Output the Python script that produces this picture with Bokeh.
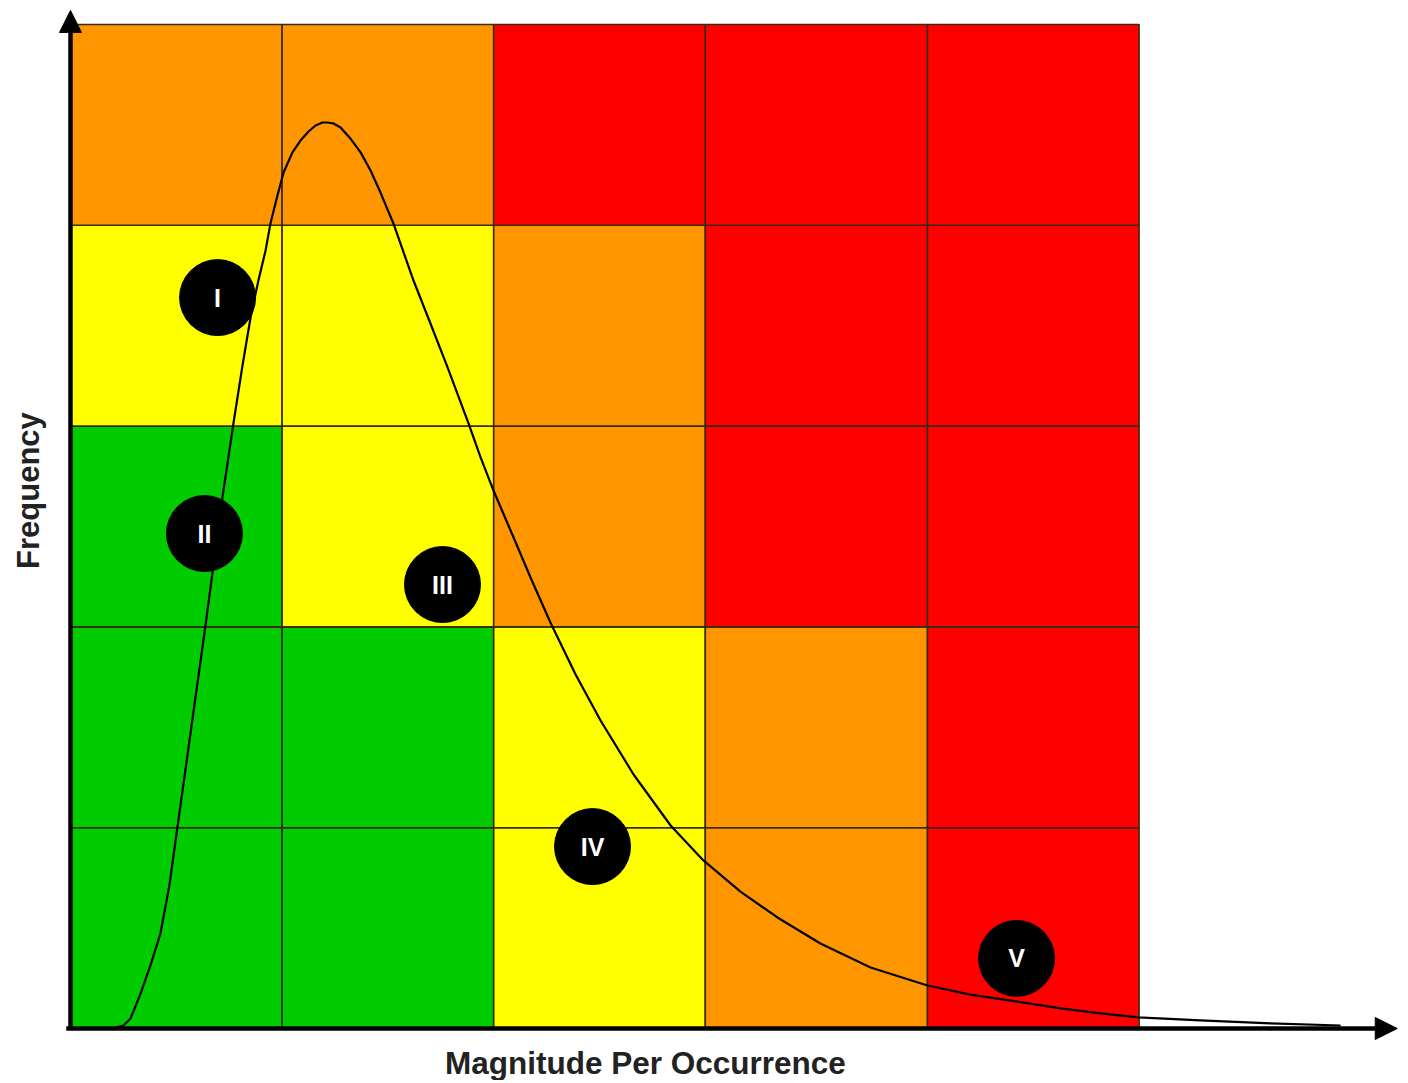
from bokeh.plotting import figure
from bokeh.models import Range1d, Arrow, NormalHead, Label, ColumnDataSource
from bokeh.embed import file_html
from bokeh.resources import INLINE
from bokeh.core.properties import value

# ---- data ----
col_edges = [0.0, 1.0, 2.0, 3.0, 4.05, 5.05]
row_edges = [0.0, 1.0, 2.0, 3.0, 4.0, 5.0]
# risk level per cell, rows from bottom (low frequency) to top
risk_rows = [
    ["G", "G", "Y", "O", "R"],
    ["G", "G", "Y", "O", "R"],
    ["G", "Y", "O", "R", "R"],
    ["Y", "Y", "O", "R", "R"],
    ["O", "O", "R", "R", "R"],
]
risk_colors = {"G": "#00CC00", "Y": "#FFFF00", "O": "#FF9600", "R": "#FF0000"}

curve_x = [0.142, 0.213, 0.250, 0.284, 0.331, 0.378, 0.425, 0.468, 0.506, 0.567,
           0.638, 0.718, 0.770, 0.813, 0.851, 0.888, 0.922, 0.945,
           0.978, 1.007, 1.049, 1.087, 1.125, 1.158, 1.191, 1.215, 1.243, 1.276,
           1.323, 1.371, 1.418, 1.465, 1.526, 1.621, 1.701, 1.782, 1.881, 1.938,
           1.999, 2.094, 2.174, 2.268, 2.387, 2.505, 2.661, 2.836, 2.991, 3.166,
           3.341, 3.544, 3.781, 4.050, 4.253, 4.475, 4.679, 4.868, 5.047, 5.340,
           5.671, 6.002]
curve_y = [0.000, 0.005, 0.015, 0.050, 0.174, 0.314, 0.473, 0.717, 1.006, 1.469,
           2.007, 2.644, 3.013, 3.302, 3.541, 3.725, 3.875, 4.009,
           4.148, 4.263, 4.363, 4.422, 4.467, 4.497, 4.512, 4.512, 4.507, 4.487,
           4.432, 4.363, 4.273, 4.163, 4.009, 3.725, 3.511, 3.292, 3.013, 2.844,
           2.679, 2.445, 2.246, 2.022, 1.763, 1.534, 1.265, 1.011, 0.837, 0.682,
           0.553, 0.423, 0.304, 0.214, 0.169, 0.134, 0.100, 0.075, 0.055, 0.040,
           0.025, 0.015]

marker_labels = ["I", "II", "III", "IV", "V"]
marker_x = [0.695, 0.633, 1.758, 2.467, 4.471]
marker_y = [3.640, 2.465, 2.211, 0.906, 0.349]

x_title = "Magnitude Per Occurrence"
y_title = "Frequency"

# ---- build cells ----
lefts, rights, bottoms, tops, fills = [], [], [], [], []
for r, row in enumerate(risk_rows):
    for c, lvl in enumerate(row):
        lefts.append(col_edges[c]); rights.append(col_edges[c + 1])
        bottoms.append(row_edges[r]); tops.append(row_edges[r + 1])
        fills.append(risk_colors[lvl])
cells = ColumnDataSource(dict(left=lefts, right=rights, bottom=bottoms, top=tops, fill=fills))

p = figure(width=1400, height=1080, output_backend="svg", toolbar_location=None,
           x_range=Range1d(-0.3308, 6.2854), y_range=Range1d(-0.2590, 5.1195),
           min_border=0, x_axis_location=None, y_axis_location=None)
p.xgrid.visible = False
p.ygrid.visible = False
p.outline_line_color = None
p.background_fill_color = "white"
p.border_fill_color = "white"

p.quad(left="left", right="right", bottom="bottom", top="top", fill_color="fill",
       line_color="#3a2a12", line_width=1.6, source=cells)

p.line(curve_x, curve_y, line_color="black", line_width=2.2, line_join="round")

msrc = ColumnDataSource(dict(x=marker_x, y=marker_y, t=marker_labels))
p.scatter("x", "y", size=76, fill_color="black", line_color="black", source=msrc)
p.text("x", "y", text="t", text_color="white", text_font=value("Liberation Sans"),
       text_font_style="bold", text_font_size="25px", text_align="center",
       text_baseline="middle", source=msrc)

# axes with arrows
p.add_layout(Arrow(x_start=0, y_start=0, x_end=0, y_end=5.07, line_width=4.5, line_color="black",
                   end=NormalHead(size=22, fill_color="black", line_color="black", line_width=1)))
p.add_layout(Arrow(x_start=-0.02, y_start=0, x_end=6.27, y_end=0, line_width=4.5, line_color="black",
                   end=NormalHead(size=22, fill_color="black", line_color="black", line_width=1)))

p.add_layout(Label(x=2.717, y=-0.174, text=x_title, text_align="center", text_baseline="middle",
                   text_font="Liberation Sans", text_font_style="bold", text_font_size="31.5px",
                   text_color="#222222"))
p.add_layout(Label(x=-0.198, y=2.679, text=y_title, angle=1.5708, text_align="center",
                   text_baseline="middle", text_font="Liberation Sans", text_font_style="bold",
                   text_font_size="31px", text_color="#222222"))

open("out.html", "w").write(file_html(p, INLINE))
